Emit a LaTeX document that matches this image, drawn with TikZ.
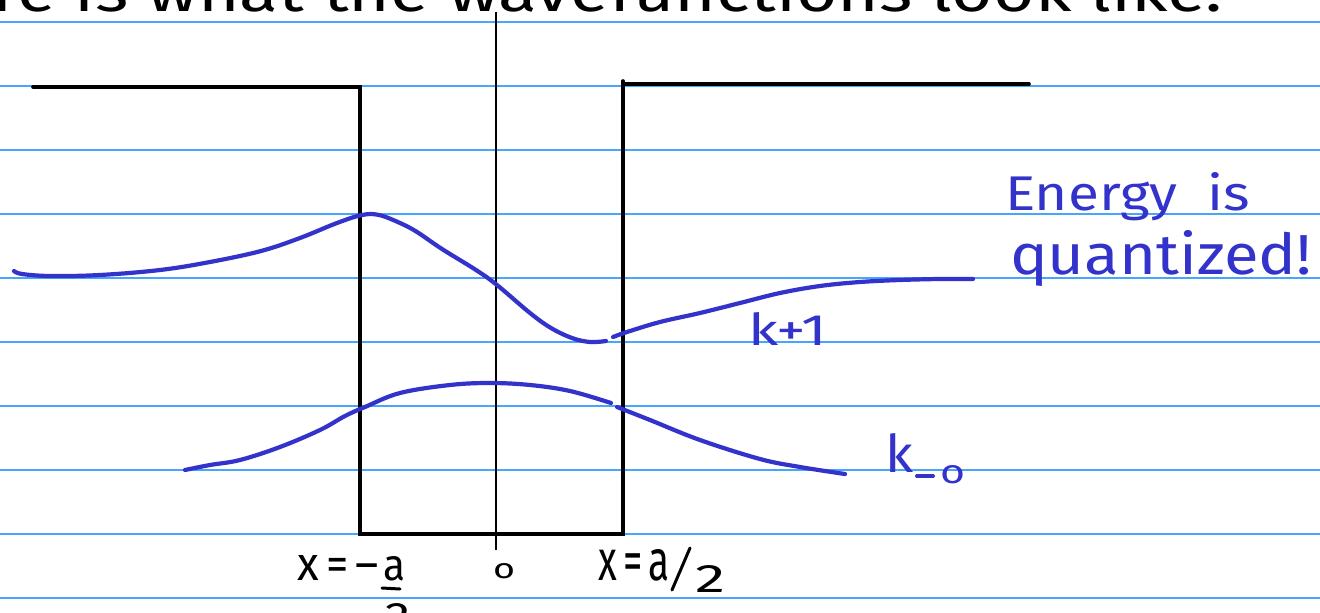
\documentclass[tikz,border=0pt]{standalone}
\usepackage{fontspec}
\setmainfont{Fira Sans}
\usepackage{graphicx}
\definecolor{rule}{RGB}{70,165,255}
\definecolor{ink}{RGB}{51,51,204}
\tikzset{
  ruled/.style={draw=rule, line width=1.6pt},
  wall/.style={draw=black, line width=3.6pt, line cap=round},
  axisline/.style={draw=black, line width=2pt},
  wave/.style={draw=ink, line width=4.2pt, line cap=round, line join=round},
  hand/.style={inner sep=0pt, outer sep=0pt},
}
\newcommand{\fitbox}[3]{\resizebox{#1pt}{#2pt}{#3}}
\begin{document}
\begin{tikzpicture}[x=1pt,y=-1pt]
\useasboundingbox (0,0) rectangle (1320,613);
\clip (0,0) rectangle (1320,613);
\fill[white] (0,0) rectangle (1320,613);
% ruled paper
\foreach \k in {0,...,9} {
  \draw[ruled] (0,{22+64*\k}) -- (1320,{22+64*\k});
}
% heading (cut off)
\node[hand, anchor=base west] (head) at (-8,12) {\fitbox{1230}{44}{re is what the wavefunctions look like.}};
% axis
\coordinate (axtop) at (496,12);
\coordinate (axbot) at (496,550);
\draw[axisline] (axtop) -- (axbot);
% potential well
\coordinate (l0) at (33,87);
\coordinate (l1) at (360,87);
\coordinate (b0) at (360,534);
\coordinate (b1) at (623,534);
\coordinate (r1) at (623,81);
\coordinate (r0) at (1029,84);
\draw[wall] (l0) -- (l1) -- (b0) -- (b1) -- (r1);
\draw[wall] (623,84) -- (r0);
% k+1 wavefunction
\draw[wave] plot[smooth, tension=0.6] coordinates {(14,271) (22,274) (50,276) (100,275) (160,270) (210,262) (261,251) (300,238) (337,223) (362,215) (379,215) (400,223) (417,232) (442,249) (476,270) (497,285) (530,313) (551,328) (572,338) (590,342) (606,341)};
\draw[wave] plot[smooth, tension=0.6] coordinates {(613,337) (627,332) (660,322) (700,313) (740,303) (780,293) (820,286) (860,282) (900,280) (940,279) (973,279)};
% k=0 wavefunction
\draw[wave] plot[smooth, tension=0.6] coordinates {(185,470) (210,465) (240,460) (280,447) (320,430) (345,416) (365,407) (400,393) (450,385) (490,383) (530,385) (570,391) (611,403)};
\draw[wave] plot[smooth, tension=0.6] coordinates {(617,407) (650,420) (700,440) (760,459) (800,467) (845,474)};
% labels (blue)
\node[hand, anchor=base west, text=ink] (energy) at (1005,210) {\fitbox{245}{38}{Energy\ \ is}};
\node[hand, anchor=base west, text=ink] (quant) at (1010,274) {\fitbox{302}{44}{quantized!}};
\node[hand, anchor=base west, text=ink] (k1) at (748,345) {\fitbox{79}{33}{k+1}};
\node[hand, anchor=base west, text=ink] (k0k) at (885,472) {\fitbox{28}{39}{k}};
\node[hand, anchor=base west, text=ink] (k0o) at (940,483) {\fitbox{25}{18}{o}};
\coordinate (kd0) at (917,476);
\coordinate (kd1) at (933,476);
\draw[draw=ink, line width=4pt, line cap=round] (kd0) -- (kd1);
% labels (black) below axis
\node[hand, anchor=base west] (xl) at (297,580) {\fitbox{82}{25}{x\,=\,--}};
\node[hand, anchor=base west] (al) at (383,580) {\fitbox{22}{24}{a}};
\coordinate (fb0) at (382,588);
\coordinate (fb1) at (400,589);
\draw[line width=3pt, line cap=round] (fb0) -- (fb1);
\node[hand, anchor=north west] (twol) at (385,603) {\fitbox{25}{27}{2}};
\node[hand, anchor=base west] (zero) at (493,578) {\fitbox{22}{15}{o}};
\node[hand, anchor=base west] (xr) at (598,580) {\fitbox{72}{31}{x\,=\,a}};
\coordinate (sl0) at (672,590);
\coordinate (sl1) at (690,548);
\draw[line width=3pt, line cap=round] (sl0) -- (sl1);
\node[hand, anchor=base west] (twor) at (695,592) {\fitbox{30}{27}{2}};
\end{tikzpicture}
\end{document}
